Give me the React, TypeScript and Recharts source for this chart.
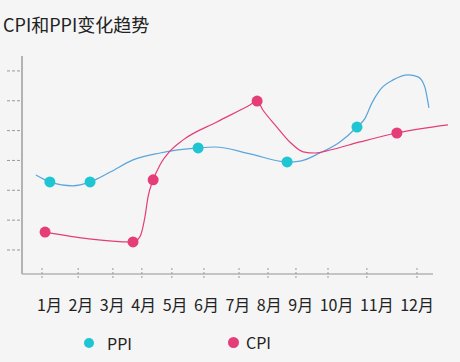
import { ComposedChart, Line, XAxis, YAxis, ReferenceLine } from "recharts";

// x in month units (1 = 1月), y in grid-step units
const months = ["1月", "2月", "3月", "4月", "5月", "6月", "7月", "8月", "9月", "10月", "11月", "12月"];
const monthTicks = [1, 2.06, 3.08, 3.93, 4.81, 5.75, 6.78, 7.63, 8.45, 9.39, 10.53, 12];
const valueTicks = [1, 2, 3, 4, 5, 6, 7];

const ppiMonth = [0.82, 1.23, 1.91, 2.41, 3.0, 3.67, 4.46, 5.58, 6.07, 7.1, 8.19, 8.57, 9.15, 9.74, 10.24, 10.48, 10.68, 10.91, 11.3, 11.74, 12.03, 12.23, 12.35];
const ppiValue = [3.51, 3.28, 3.15, 3.28, 3.61, 4.02, 4.25, 4.42, 4.45, 4.22, 3.95, 3.98, 4.25, 4.62, 5.12, 5.42, 5.93, 6.36, 6.7, 6.87, 6.8, 6.46, 5.76];
const ppiMarked = [1, 3, 7, 10, 14];

const cpiMonth = [1.09, 3.67, 3.87, 4.02, 4.11, 4.26, 4.46, 4.76, 5.14, 6.13, 7.1, 7.31, 7.48, 7.89, 8.27, 8.66, 9.01, 9.45, 10.33, 11.41, 12.91];
const cpiValue = [1.6, 1.27, 1.44, 2.11, 2.78, 3.35, 3.85, 4.32, 4.69, 5.29, 5.86, 5.99, 5.69, 5.12, 4.62, 4.29, 4.25, 4.35, 4.62, 4.92, 5.19];
const cpiMarked = [0, 1, 5, 11, 19];

const ppiData = ppiMonth.map((m, i) => ({ month: m, value: ppiValue[i], marked: ppiMarked.includes(i) }));
const cpiData = cpiMonth.map((m, i) => ({ month: m, value: cpiValue[i], marked: cpiMarked.includes(i) }));

const PPI_LINE = "#5aa5dc";
const PPI_DOT = "#1fc5d2";
const CPI = "#e53d77";
const FONT = "'Noto Sans CJK SC', 'Noto Sans', sans-serif";

const makeDot = (color: string) => (props: any) => {
  const { cx, cy, payload, index } = props;
  if (!payload.marked) return <g key={`d-${index}`} />;
  return <circle key={`d-${index}`} cx={cx} cy={cy} r={5.5} fill={color} stroke="none" />;
};

// tick marks cross the axis line; month names sit in a text row below
const XTick = (props: any) => {
  const { x, y } = props;
  return <line x1={x} y1={y - 6} x2={x} y2={y + 6} stroke="#999" strokeDasharray="2 2" />;
};

const YTick = (props: any) => {
  const { x, y } = props;
  return <line x1={x - 15} y1={y} x2={x - 2} y2={y} stroke="#999" strokeDasharray="3 2" />;
};

export default function App() {
  return (
    <div style={{ position: "absolute", left: 0, top: 0, width: 460, height: 362, background: "#f5f5f5", fontFamily: FONT }}>
      <div style={{ position: "absolute", left: 3, top: 12, fontSize: 18, color: "#222", lineHeight: "24px" }}>
        CPI和PPI变化趋势
      </div>
      <ComposedChart width={460} height={362} margin={{ top: 56, right: 12, left: 0, bottom: 48 }}>
        <XAxis
          type="number"
          dataKey="month"
          domain={[0.413, 12.91]}
          ticks={monthTicks}
          allowDataOverflow
          axisLine={false}
          tickLine={false}
          tickSize={0}
          tickMargin={0}
          height={40}
          tick={<XTick />}
          interval={0}
        />
        <YAxis
          type="number"
          domain={[0.195, 7.5]}
          ticks={valueTicks}
          allowDataOverflow
          width={22}
          axisLine={{ stroke: "#b3b3b3", strokeWidth: 2 }}
          tickLine={false}
          tickSize={0}
          tickMargin={0}
          tick={<YTick />}
          interval={0}
        />
        <ReferenceLine
          segment={[{ x: 0.413, y: 0.195 }, { x: 12.47, y: 0.195 }]}
          stroke="#b3b3b3"
          strokeWidth={1.5}
          ifOverflow="visible"
        />
        <Line
          data={ppiData}
          dataKey="value"
          type="monotone"
          stroke={PPI_LINE}
          strokeWidth={1.2}
          dot={makeDot(PPI_DOT)}
          activeDot={false}
          isAnimationActive={false}
        />
        <Line
          data={cpiData}
          dataKey="value"
          type="monotone"
          stroke={CPI}
          strokeWidth={1.2}
          dot={makeDot(CPI)}
          activeDot={false}
          isAnimationActive={false}
        />
      </ComposedChart>
      <div
        style={{
          position: "absolute",
          left: 37,
          top: 294,
          width: 397,
          display: "flex",
          justifyContent: "space-between",
          fontSize: 16,
          lineHeight: "20px",
          color: "#222",
        }}
      >
        {months.map((m) => (
          <span key={m}>{m}</span>
        ))}
      </div>
      <div style={{ position: "absolute", left: 84, top: 331, display: "flex", alignItems: "center", fontSize: 16, color: "#222" }}>
        <span style={{ width: 10, height: 10, borderRadius: 5, background: PPI_DOT, display: "inline-block", marginRight: 13 }} />
        PPI
      </div>
      <div style={{ position: "absolute", left: 228, top: 330, display: "flex", alignItems: "center", fontSize: 16, color: "#222" }}>
        <span style={{ width: 11, height: 11, borderRadius: 6, background: CPI, display: "inline-block", marginRight: 7 }} />
        CPI
      </div>
    </div>
  );
}
